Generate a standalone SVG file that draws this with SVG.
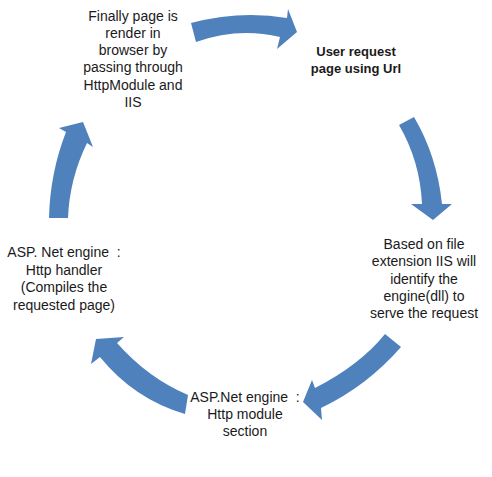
<svg xmlns="http://www.w3.org/2000/svg" width="492" height="477" viewBox="0 0 492 477">
<style>
.t{font-family:"Liberation Sans",Arial,sans-serif;font-size:14px;fill:#1a1a1a;text-anchor:middle}
.b{font-weight:bold;font-size:13px}
.a{fill:#4f81bd;stroke:none}
</style>
<rect width="492" height="477" fill="#ffffff"/>
<g id="connectors">
<path class="a" d="M 191,23 Q 240,10 287,18 L 288,9 L 297,32 L 277,49 L 280,37 Q 238,27 196,42 Z"/>
<path class="a" d="M 399,125 L 414,117 Q 437,156 442,204 L 452,204 L 433,220 L 411,204 L 422,204 Q 420,161 399,125 Z"/>
<path class="a" d="M 385,334 L 401,347 Q 367,386 321,408 L 322,420 L 303,402 L 312,380 L 315,388 Q 360,365 385,334 Z"/>
<path class="a" d="M 188,395 L 185,414 Q 134,399 100,357 L 91,364 L 96,339 L 124,337 L 117,343 Q 148,378 188,395 Z"/>
<path class="a" d="M 49,218 Q 50,173 66,132 L 59,128 L 83,122 L 93,147 L 87,143 Q 69.5,179 68,218 Z"/>
</g>
<g id="node-final">
<text class="t" x="133" y="21">Finally page is</text>
<text class="t" x="133" y="38">render in</text>
<text class="t" x="133" y="55">browser by</text>
<text class="t" x="133" y="72">passing through</text>
<text class="t" x="133" y="90">HttpModule and</text>
<text class="t" x="133" y="107">IIS</text>
</g>
<g id="node-request">
<text class="t b" x="356" y="56">User request</text>
<text class="t b" x="356" y="73">page using Url</text>
</g>
<g id="node-iis">
<text class="t" x="424" y="249">Based on file</text>
<text class="t" x="424" y="266">extension IIS will</text>
<text class="t" x="424" y="284">identify the</text>
<text class="t" x="424" y="301">engine(dll) to</text>
<text class="t" x="424" y="318">serve the request</text>
</g>
<g id="node-module">
<text class="t" x="245" y="402" xml:space="preserve">ASP.Net engine  :</text>
<text class="t" x="245" y="419">Http module</text>
<text class="t" x="245" y="436">section</text>
</g>
<g id="node-handler">
<text class="t" x="64" y="257" xml:space="preserve">ASP. Net engine  :</text>
<text class="t" x="64" y="275">Http handler</text>
<text class="t" x="64" y="292">(Compiles the</text>
<text class="t" x="64" y="310">requested page)</text>
</g>
</svg>
